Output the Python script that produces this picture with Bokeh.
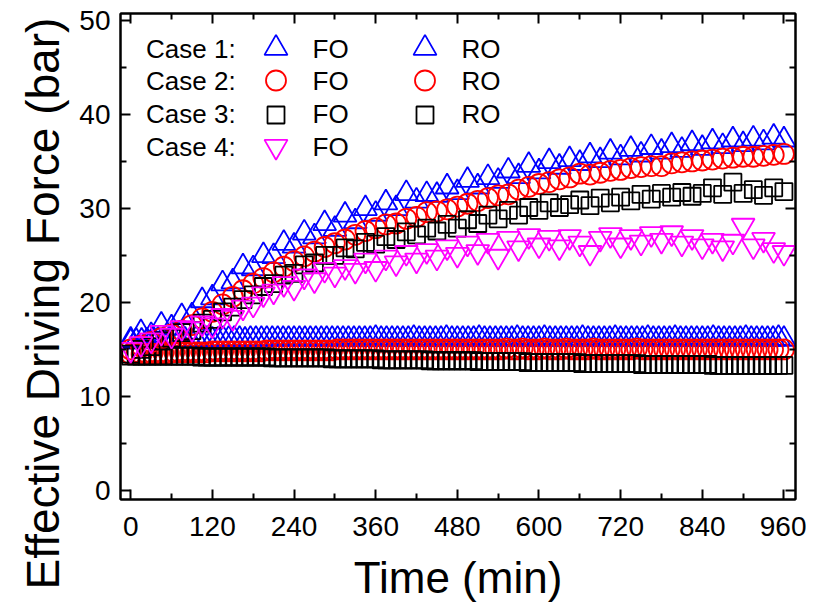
from bokeh.plotting import figure
from bokeh.models import Range1d, LinearAxis, FixedTicker, Label, Title
from bokeh.embed import file_html
from bokeh.resources import INLINE

# ---------------- data ----------------
t_fo = list(range(0, 961, 15))   # FO sampling times (min)
t_ro = list(range(0, 961, 8))    # RO sampling times (min)

case1_fo = [16.0, 16.8, 16.5, 17.6, 17.3, 18.5, 18.6, 20.2, 20.5, 22.0,
            22.2, 23.8, 23.6, 25.0, 24.9, 26.3, 26.0, 27.4, 27.0, 28.4,
            27.8, 29.3, 28.6, 30.0, 29.4, 30.6, 30.0, 31.6, 30.8, 31.5,
            31.4, 32.3, 31.7, 33.0, 32.3, 33.3, 32.9, 34.0, 33.4, 34.6,
            33.9, 35.0, 34.4, 35.2, 34.8, 35.6, 35.1, 36.0, 35.4, 36.3,
            35.7, 36.5, 36.0, 36.7, 36.2, 36.9, 36.4, 37.1, 36.6, 37.3,
            36.8, 37.4, 37.0, 37.6, 37.3]
case2_fo = [15.0, 15.4, 15.8, 16.2, 16.6, 17.0, 17.6, 18.3, 19.0, 19.8,
            20.6, 21.3, 22.0, 22.6, 23.2, 23.8, 24.4, 24.9, 25.4, 25.9,
            26.3, 26.7, 27.2, 27.6, 27.9, 28.3, 28.4, 28.9, 29.1, 29.6,
            29.7, 29.9, 30.2, 30.5, 30.8, 31.1, 31.4, 31.5, 32.0, 32.3,
            32.6, 32.8, 33.1, 33.3, 33.7, 33.6, 33.8, 34.0, 34.1, 34.3,
            34.4, 34.5, 34.5, 34.8, 34.9, 35.0, 35.1, 35.2, 35.3, 35.4,
            35.5, 35.5, 35.6, 35.7, 35.8]
case3_fo = [14.5, 15.0, 15.3, 15.9, 16.2, 16.8, 17.0, 17.8, 18.2, 19.0,
            19.5, 20.3, 20.8, 21.7, 22.0, 22.9, 23.1, 24.0, 24.2, 25.0,
            25.0, 25.8, 25.7, 26.4, 26.2, 27.0, 26.7, 27.5, 27.2, 27.9,
            27.6, 28.3, 27.9, 28.8, 28.4, 29.3, 28.9, 29.8, 29.3, 30.1,
            29.8, 30.6, 30.1, 30.4, 30.9, 30.3, 31.1, 30.6, 31.2, 30.8,
            31.5, 31.0, 31.6, 31.2, 31.7, 31.3, 31.6, 32.2, 31.5, 32.8,
            31.6, 32.0, 31.4, 32.2, 31.8]
case4_fo = [15.0, 15.6, 16.0, 16.8, 16.5, 17.3, 17.2, 17.8, 17.6, 18.6,
            18.4, 19.5, 19.8, 20.9, 21.2, 22.0, 21.6, 22.8, 22.4, 23.5,
            23.0, 23.8, 23.4, 24.5, 23.6, 24.8, 24.2, 25.3, 24.5, 25.5,
            24.8, 25.9, 25.1, 26.3, 25.4, 26.6, 24.9, 26.8, 25.8, 27.1,
            26.1, 26.9, 25.9, 27.0, 26.3, 25.3, 26.8, 27.2, 26.1, 27.0,
            26.4, 27.3, 26.6, 27.4, 26.3, 27.0, 26.0, 26.6, 25.8, 26.5,
            28.2, 26.0, 26.7, 25.6, 25.3]

case1_ro = [15.8, 15.9, 15.9, 15.9, 16.0, 16.0, 16.0, 16.0, 16.0, 16.0,
            16.0, 16.0, 16.1, 16.0, 16.1, 16.0, 16.0, 16.1, 16.1, 16.1,
            16.1, 16.0, 16.1, 16.1, 16.1, 16.1, 16.1, 16.1, 16.1, 16.1,
            16.1, 16.1, 16.1, 16.1, 16.1, 16.1, 16.1, 16.1, 16.1, 16.1,
            16.1, 16.1, 16.1, 16.1, 16.1, 16.2, 16.1, 16.1, 16.1, 16.1,
            16.1, 16.1, 16.2, 16.1, 16.1, 16.1, 16.1, 16.1, 16.2, 16.1,
            16.1, 16.1, 16.1, 16.1, 16.2, 16.1, 16.1, 16.1, 16.1, 16.1,
            16.1, 16.2, 16.1, 16.1, 16.1, 16.1, 16.2, 16.1, 16.1, 16.1,
            16.1, 16.1, 16.1, 16.2, 16.1, 16.1, 16.1, 16.1, 16.1, 16.2,
            16.1, 16.1, 16.1, 16.1, 16.1, 16.2, 16.1, 16.1, 16.1, 16.1,
            16.2, 16.1, 16.1, 16.1, 16.1, 16.1, 16.1, 16.2, 16.1, 16.1,
            16.1, 16.1, 16.1, 16.2, 16.1, 16.1, 16.1, 16.1, 16.1, 16.2,
            16.1]
case2_ro = [14.5, 14.5, 14.5, 14.6, 14.6, 14.6, 14.6, 14.6, 14.7, 14.7,
            14.7, 14.7, 14.7, 14.7, 14.7, 14.8, 14.8, 14.8, 14.8, 14.8,
            14.8, 14.8, 14.8, 14.8, 14.8, 14.9, 14.9, 14.9, 14.9, 14.9,
            14.9, 14.9, 14.9, 14.9, 14.9, 14.9, 14.9, 14.9, 15.0, 15.0,
            15.0, 15.0, 15.0, 15.0, 15.0, 15.0, 15.0, 15.0, 15.0, 15.0,
            15.0, 15.0, 15.0, 15.0, 15.0, 15.0, 15.0, 15.0, 15.0, 15.0,
            15.0, 15.0, 15.0, 15.0, 15.0, 15.0, 15.0, 15.0, 15.0, 15.1,
            15.0, 15.0, 15.1, 15.0, 15.0, 15.0, 15.1, 15.0, 15.0, 15.0,
            15.1, 15.0, 15.0, 15.0, 15.0, 15.1, 15.0, 15.0, 15.0, 15.0,
            15.0, 15.0, 15.0, 15.1, 15.0, 15.0, 15.0, 15.0, 15.0, 15.0,
            15.0, 15.0, 15.0, 15.0, 15.0, 15.0, 15.0, 15.0, 15.0, 15.0,
            15.0, 15.0, 15.0, 15.0, 15.0, 15.0, 15.0, 15.0, 15.0, 15.0,
            15.0]
case3_ro = [14.3, 14.3, 14.3, 14.3, 14.3, 14.3, 14.3, 14.3, 14.3, 14.3,
            14.3, 14.3, 14.3, 14.2, 14.2, 14.2, 14.2, 14.2, 14.2, 14.2,
            14.2, 14.2, 14.2, 14.2, 14.2, 14.2, 14.1, 14.1, 14.1, 14.1,
            14.1, 14.1, 14.1, 14.1, 14.1, 14.1, 14.1, 14.0, 14.0, 14.0,
            14.0, 14.0, 14.0, 14.0, 14.0, 14.0, 13.9, 13.9, 13.9, 13.9,
            13.9, 13.9, 13.9, 13.9, 13.9, 13.8, 13.8, 13.8, 13.8, 13.8,
            13.8, 13.8, 13.8, 13.8, 13.7, 13.7, 13.7, 13.7, 13.7, 13.7,
            13.7, 13.7, 13.7, 13.6, 13.6, 13.6, 13.6, 13.6, 13.6, 13.6,
            13.6, 13.6, 13.6, 13.5, 13.5, 13.5, 13.5, 13.5, 13.5, 13.5,
            13.5, 13.5, 13.5, 13.5, 13.4, 13.4, 13.4, 13.4, 13.4, 13.4,
            13.4, 13.4, 13.4, 13.4, 13.4, 13.4, 13.4, 13.3, 13.3, 13.3,
            13.3, 13.3, 13.3, 13.3, 13.3, 13.3, 13.3, 13.3, 13.3, 13.3,
            13.3]

x_ticks = [0, 120, 240, 360, 480, 600, 720, 840, 960]
x_minor = [60, 180, 300, 420, 540, 660, 780, 900]
y_ticks = [0, 10, 20, 30, 40, 50]
y_minor = [5, 15, 25, 35, 45]
case_labels = ["Case 1:", "Case 2:", "Case 3:", "Case 4:"]
x_title = "Time (min)"
y_title = "Effective Driving Force (bar)"

# ---------------- layout ----------------
FONT = "Liberation Sans"
X0, X1 = -15, 977
Y0, Y1 = -0.96, 50.74
FW, FH = 675, 486
BL, BT = 120, 13          # frame offset from canvas top-left (px)

p = figure(frame_width=FW, frame_height=FH, output_backend="svg", toolbar_location=None,
           x_range=Range1d(X0, X1), y_range=Range1d(Y0, Y1),
           min_border_left=BL, min_border_right=11, min_border_top=BT, min_border_bottom=0)
p.grid.visible = False
p.outline_line_color = "black"
p.outline_line_width = 2
p.background_fill_color = "white"
p.border_fill_color = "white"


def dx(px):   # canvas px -> data x
    return X0 + (px - BL) * (X1 - X0) / FW


def dy(py):   # canvas px -> data y
    return Y1 - (py - BT) * (Y1 - Y0) / FH


def style_axis(ax, labels=True):
    ax.axis_line_width = 2
    ax.major_tick_line_width = 2
    ax.minor_tick_line_width = 2
    ax.major_tick_in = 10
    ax.major_tick_out = 0
    ax.minor_tick_in = 6
    ax.minor_tick_out = 0
    ax.major_label_text_font = FONT
    if labels:
        ax.major_label_text_font_size = "28px"
        ax.major_label_text_color = "black"
    else:
        ax.major_label_text_font_size = "0px"
        ax.major_label_text_color = None
        ax.major_label_standoff = 0


p.xaxis.ticker = FixedTicker(ticks=x_ticks, minor_ticks=x_minor)
p.yaxis.ticker = FixedTicker(ticks=y_ticks, minor_ticks=y_minor)
for ax in p.xaxis:
    style_axis(ax)
    ax.major_label_standoff = 17
for ax in p.yaxis:
    style_axis(ax)
    ax.major_label_standoff = 10

top = LinearAxis(ticker=FixedTicker(ticks=x_ticks, minor_ticks=x_minor))
right = LinearAxis(ticker=FixedTicker(ticks=y_ticks, minor_ticks=y_minor))
style_axis(top, labels=False)
style_axis(right, labels=False)
p.add_layout(top, "above")
p.add_layout(right, "right")

# axis titles (as side-panel titles so they can sit where the reference has them)
p.add_layout(Title(text=x_title, align="center", vertical_align="bottom", standoff=24,
                   text_font=FONT, text_font_size="44px",
                   text_font_style="normal", text_color="black"), "below")
p.add_layout(Title(text=y_title, align="left", offset=-90, vertical_align="top",
                   standoff=12, text_font=FONT, text_font_size="46px",
                   text_line_height=1.4,
                   text_font_style="normal", text_color="black"), "left")

LW = 1.8
BLUE, RED, BLACK, MAG = "#0000FF", "#FF0000", "#000000", "#FF00FF"
styles = [("triangle", 23, BLUE), ("circle", 20, RED), ("square", 17, BLACK),
          ("inverted_triangle", 23, MAG)]

ro_series = [case1_ro, case2_ro, case3_ro]
fo_series = [case1_fo, case2_fo, case3_fo, case4_fo]
for (m, s, c), vals in zip(styles, ro_series):
    p.scatter(t_ro, vals, marker=m, size=s, line_color=c, fill_color=None, line_width=LW)
for (m, s, c), vals in zip(styles, fo_series):
    p.scatter(t_fo, vals, marker=m, size=s, line_color=c, fill_color=None, line_width=LW)

# ---------------- legend (key block, positions in canvas px) ----------------
row_marker_py = [47.7, 80, 114.5, 146]
row_text_py = [48.5, 80.5, 113.5, 146]
FO_MX, RO_MX = 275.5, 424.5
FO_TX, RO_TX, CASE_TX = 312, 461, 145.5
for i, ((m, s, c), lab) in enumerate(zip(styles, case_labels)):
    p.add_layout(Label(x=dx(CASE_TX), y=dy(row_text_py[i]), text=lab, text_font=FONT,
                       text_font_size="26px", text_color="black",
                       text_align="left", text_baseline="middle"))
    p.scatter([dx(FO_MX)], [dy(row_marker_py[i])], marker=m, size=s, line_color=c,
              fill_color=None, line_width=LW)
    p.add_layout(Label(x=dx(FO_TX), y=dy(row_text_py[i]), text="FO", text_font=FONT,
                       text_font_size="26px", text_color="black",
                       text_align="left", text_baseline="middle"))
    if i < 3:
        p.scatter([dx(RO_MX)], [dy(row_marker_py[i])], marker=m, size=s, line_color=c,
                  fill_color=None, line_width=LW)
        p.add_layout(Label(x=dx(RO_TX), y=dy(row_text_py[i]), text="RO", text_font=FONT,
                           text_font_size="26px", text_color="black",
                           text_align="left", text_baseline="middle"))

open("out.html", "w").write(file_html(p, INLINE))
